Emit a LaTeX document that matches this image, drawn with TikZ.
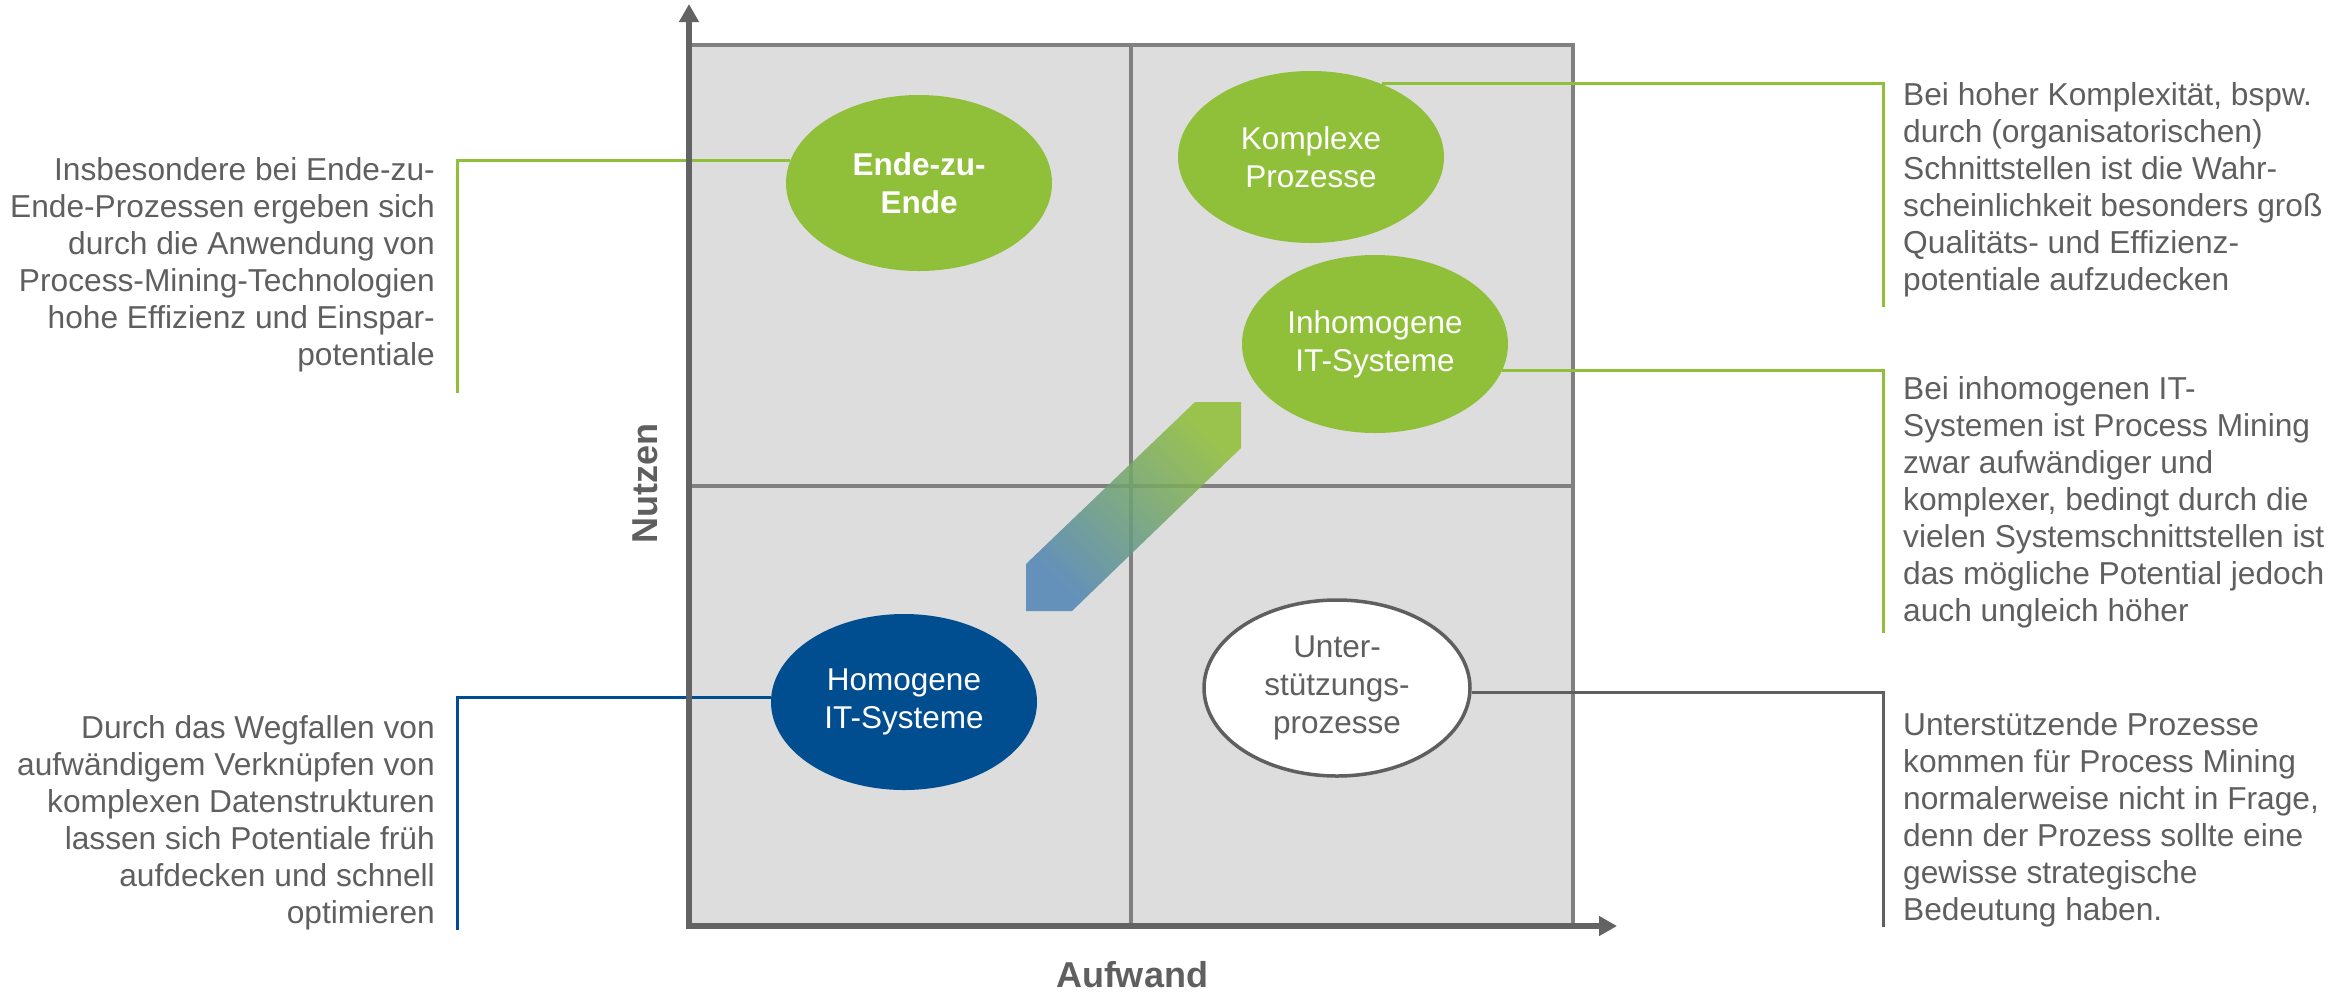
\documentclass[tikz,border=0pt]{standalone}
\usepackage{fontspec}
\setmainfont{Liberation Sans}
\usetikzlibrary{arrows.meta,shapes.geometric}
\pgfdeclarelayer{back}
\pgfdeclarelayer{mid}
\pgfsetlayers{back,mid,main}
\definecolor{boxgray}{HTML}{DDDDDD}
\definecolor{gridgray}{HTML}{808080}
\definecolor{axisgray}{HTML}{636363}
\definecolor{txtgray}{HTML}{5F5F5F}
\definecolor{pmgreen}{HTML}{90C03A}
\definecolor{pmblue}{HTML}{004E8F}
\definecolor{arrowblue}{HTML}{4F84B3}
\definecolor{arrowgreen}{HTML}{8FBF36}
\begin{document}
\begin{tikzpicture}[x=1pt,y=-1pt,
  ell/.style={ellipse, inner sep=0pt, minimum width=266pt, minimum height=176pt,
    align=center, font=\fontsize{31.5}{38}\selectfont},
  greenell/.style={ell, fill=pmgreen, text=white},
  blueell/.style={ell, fill=pmblue, text=white},
  whiteell/.style={ell, fill=white, draw=txtgray, line width=3.5pt, text=txtgray},
  desc/.style={inner sep=0pt, text=txtgray, font=\fontsize{31.7}{37}\selectfont},
  axislabel/.style={inner sep=0pt, text=txtgray, font=\fontsize{36}{40}\selectfont\bfseries},
  gridline/.style={draw=gridgray, line width=3.5pt},
  axisline/.style={draw=axisgray, line width=6pt, -{Triangle[width=19pt,length=18pt]}},
  greenline/.style={draw=pmgreen, line width=3pt},
  blueline/.style={draw=pmblue, line width=3pt},
  grayline/.style={draw=txtgray, line width=3pt}]
\useasboundingbox (0,0) rectangle (2351,994);

% quadrant box (back layer)
\coordinate (mt) at (1131,45);
\coordinate (mb) at (1131,926);
\coordinate (ml) at (690,486);
\coordinate (mr) at (1573,486);
\begin{pgfonlayer}{back}
\draw[gridline, fill=boxgray] (690,45) rectangle (1573,926);
\draw[gridline] (mt) -- (mb);
\draw[gridline] (ml) -- (mr);
\end{pgfonlayer}

% ellipses (main layer)
\node[greenell] (ende) at (919,183) {\bfseries Ende-zu-\\\bfseries Ende};
\node[greenell, minimum height=172pt] (kom) at (1311,157) {Komplexe\\Prozesse};
\node[greenell, minimum height=178pt] (inh) at (1375,344) {Inhomogene\\IT-Systeme};
\node[blueell] (hom) at (904,702) {Homogene\\IT-Systeme};
\node[whiteell] (unt) at (1337,688) {Unter-\\stützungs-\\prozesse};

% connector end points
\coordinate (e1) at (457,393);
\coordinate (e2) at (1883,307);
\coordinate (e3) at (1883,633);
\coordinate (e4) at (1883,927);
\coordinate (e5) at (457,930);

% gradient arrow points
\coordinate (pa) at (1026,564);
\coordinate (pb) at (1195,402);
\coordinate (pc) at (1241,402);
\coordinate (pd) at (1241,448);
\coordinate (pe) at (1072,611);
\coordinate (pf) at (1026,611);

% axes points
\coordinate (o1) at (689,929);
\coordinate (ytip) at (689,4);
\coordinate (o2) at (686,926);
\coordinate (xtip) at (1617,926);

\begin{pgfonlayer}{mid}
\draw[greenline] (e1) |- (ende.170.6);
\draw[greenline] (e2) |- (kom.46);
\draw[greenline] (e3) |- (inh.-12);
\draw[grayline] (e4) |- (unt.-2.6);
\draw[blueline] (e5) |- (hom.178.7);
\shade[bottom color=arrowblue, top color=arrowgreen, shading angle=-45, fill opacity=0.85]
  (pa) -- (pb) -- (pc) -- (pd) -- (pe) -- (pf) -- cycle;
\draw[axisline] (o1) -- (ytip);
\draw[axisline] (o2) -- (xtip);
\end{pgfonlayer}

% axis labels
\node[axislabel, rotate=90] (nutzen) at (645,483) {Nutzen};
\node[axislabel, anchor=base] (aufwand) at (1132,987) {Aufwand};

% descriptions
\node[desc, align=right, anchor=north east] (t1) at (435,157.4)
  {Insbesondere bei Ende-zu-\\Ende-Prozessen ergeben sich\\durch die Anwendung von\\Process-Mining-Technologien\\hohe Effizienz und Einspar-\\potentiale};
\node[desc, align=right, anchor=north east] (t2) at (435,715.4)
  {Durch das Wegfallen von\\aufwändigem Verknüpfen von\\komplexen Datenstrukturen\\lassen sich Potentiale früh\\aufdecken und schnell\\optimieren};
\node[desc, align=left, anchor=north west] (t3) at (1903,82.4)
  {Bei hoher Komplexität, bspw.\\durch (organisatorischen)\\Schnittstellen ist die Wahr-\\scheinlichkeit besonders groß\\Qualitäts- und Effizienz-\\potentiale aufzudecken};
\node[desc, align=left, anchor=north west] (t4) at (1903,376.4)
  {Bei inhomogenen IT-\\Systemen ist Process Mining\\zwar aufwändiger und\\komplexer, bedingt durch die\\vielen Systemschnittstellen ist\\das mögliche Potential jedoch\\auch ungleich höher};
\node[desc, align=left, anchor=north west] (t5) at (1903,712.4)
  {Unterstützende Prozesse\\kommen für Process Mining\\normalerweise nicht in Frage,\\denn der Prozess sollte eine\\gewisse strategische\\Bedeutung haben.};
\end{tikzpicture}
\end{document}
